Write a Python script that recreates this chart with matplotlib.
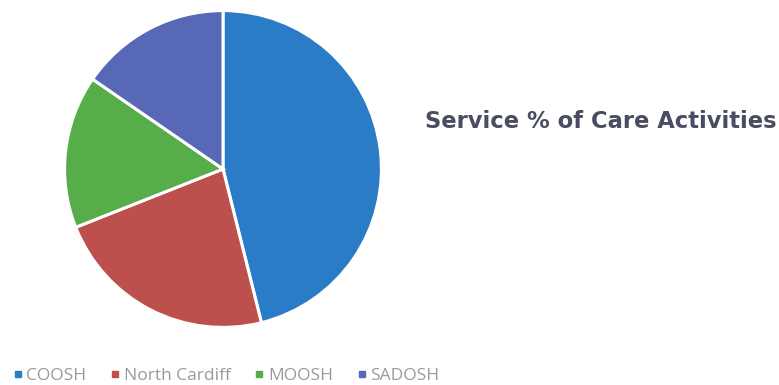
import matplotlib
matplotlib.use('Agg')
import matplotlib.pyplot as plt
from matplotlib.lines import Line2D

# ── Data ──────────────────────────────────────────────────────────────────────
services = ['COOSH', 'North Cardiff', 'MOOSH', 'SADOSH']
shares   = [46.1, 22.9, 15.6, 15.4]
colors   = ['#2b7cc6', '#bd4f4c', '#56ad4a', '#5768b6']

TITLE = 'Service % of Care Activities'

fig = plt.figure(figsize=(7.79, 3.85), dpi=100)
fig.patch.set_facecolor('white')

# pie centred at ~(222, 169) px, radius ~159 px
ax = fig.add_axes([63 / 779, (216 - 160) / 385, 320 / 779, 320 / 385])
ax.pie(shares, colors=colors, startangle=90, counterclock=False,
       radius=1.0, wedgeprops=dict(edgecolor='white', linewidth=2.2))
ax.set_xlim(-1.01, 1.01)
ax.set_ylim(-1.01, 1.01)
ax.set_aspect('equal')
ax.axis('off')

fig.text(425 / 779, 1 - 122 / 385, TITLE, fontsize=16.3, fontweight='bold',
         family='DejaVu Sans', color='#4a4c62', ha='left', va='center')

handles = [Line2D([0], [0], marker='s', linestyle='none', markersize=4,
                  markerfacecolor=c, markeredgecolor=c) for c in colors]
fig.legend(handles, services, loc='center left', ncol=4, frameon=False,
           bbox_to_anchor=(2 / 779, 1 - 376 / 385), borderaxespad=0.2,
           handlelength=0.6, handletextpad=0.2, columnspacing=1.35,
           labelcolor='#9a9a9a', prop={'family': 'Open Sans', 'size': 12.5})

fig.savefig('out.png', dpi=100, facecolor='white')
